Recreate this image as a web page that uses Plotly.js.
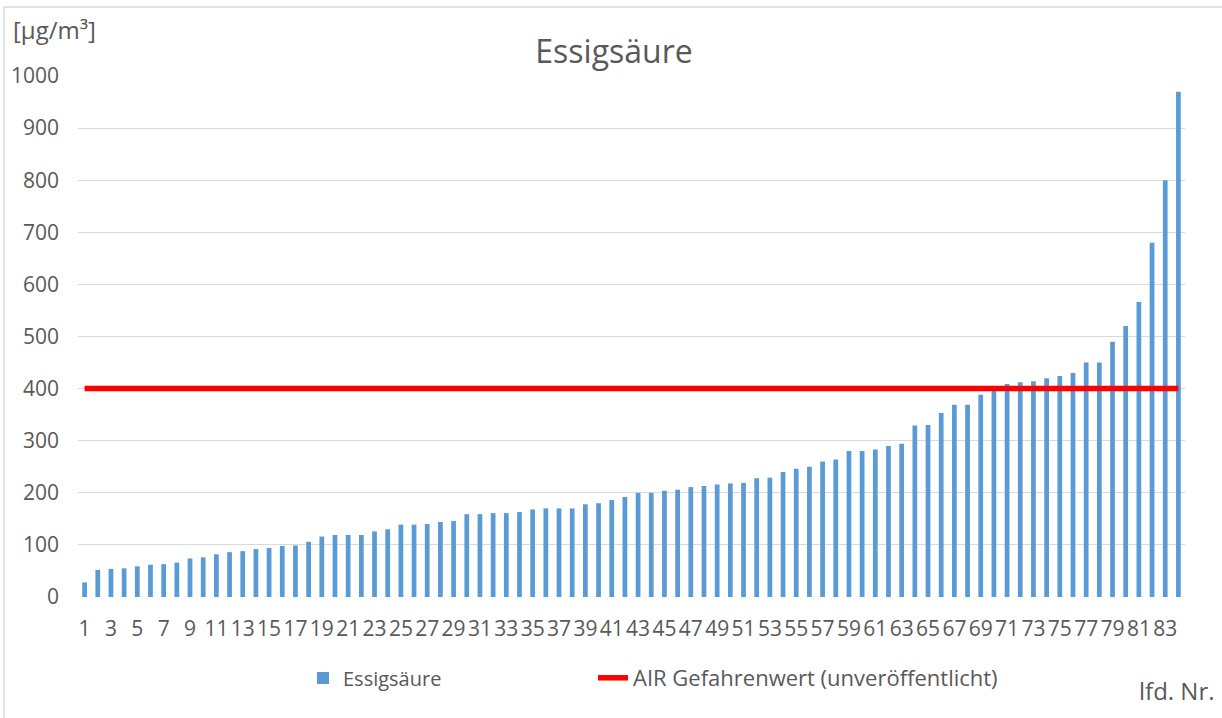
<!DOCTYPE html>
<html>
<head>
<meta charset="utf-8">
<script src="https://cdn.plot.ly/plotly-3.0.1.min.js"></script>
<style>
  html, body { margin: 0; padding: 0; background: #ffffff; }
  #chart { width: 1222px; height: 718px; }
</style>
</head>
<body>
<div id="chart"></div>
<script>
// Laufende Nummer (lfd. Nr.) 1..84
const categories = [
  1, 2, 3, 4, 5, 6, 7, 8, 9, 10,
  11, 12, 13, 14, 15, 16, 17, 18, 19, 20,
  21, 22, 23, 24, 25, 26, 27, 28, 29, 30,
  31, 32, 33, 34, 35, 36, 37, 38, 39, 40,
  41, 42, 43, 44, 45, 46, 47, 48, 49, 50,
  51, 52, 53, 54, 55, 56, 57, 58, 59, 60,
  61, 62, 63, 64, 65, 66, 67, 68, 69, 70,
  71, 72, 73, 74, 75, 76, 77, 78, 79, 80,
  81, 82, 83, 84
];

// Essigsäure concentrations [µg/m³]
const essigsaeure = [
  28, 52, 54, 55, 59, 62, 63, 66, 74, 76,
  82, 86, 88, 92, 94, 98, 99, 106, 116, 119,
  119, 119, 126, 130, 139, 139, 140, 144, 146, 159,
  159, 161, 161, 163, 168, 170, 170, 170, 178, 180,
  186, 192, 200, 200, 204, 206, 211, 213, 216, 218,
  219, 228, 229, 240, 246, 250, 260, 264, 280, 280,
  283, 290, 294, 329, 330, 353, 369, 369, 388, 396,
  409, 412, 414, 420, 424, 430, 450, 450, 490, 520,
  566, 680, 800, 970
];

// AIR Gefahrenwert (unveröffentlicht)
const gefahrenwert = categories.map(() => 400);

// x tick labels: every second number
const xTickVals = categories.filter(c => c % 2 === 1);
const xTickText = xTickVals.map(String);

const yTickVals = [0, 100, 200, 300, 400, 500, 600, 700, 800, 900, 1000];

const FONT = "'Open Sans', 'Liberation Sans', sans-serif";
const TXT = '#595959';

const L = 78, R = 37, T = 76, B = 121;
const W = 1222, H = 718;
const pw = W - L - R, ph = H - T - B;
const px = x => (x - L) / pw;
const py = y => (H - B - y) / ph;

const traces = [
  {
    type: 'bar',
    name: 'Essigsäure',
    x: categories,
    y: essigsaeure,
    marker: { color: '#5B9BD5' },
    legend: 'legend',
    hoverinfo: 'x+y'
  },
  {
    type: 'scatter',
    mode: 'lines',
    name: 'AIR Gefahrenwert (unveröffentlicht)',
    x: categories,
    y: gefahrenwert,
    line: { color: '#FF0000', width: 5.5 },
    legend: 'legend2',
    hoverinfo: 'y'
  }
];

const legendBase = {
  orientation: 'h',
  yref: 'container', y: 1 - 678 / H, yanchor: 'middle',
  xref: 'container', xanchor: 'left',
  font: { family: FONT, size: 20, color: TXT },
  bgcolor: 'rgba(0,0,0,0)'
};

const layout = {
  width: W,
  height: H,
  margin: { l: L, r: R, t: T, b: B },
  paper_bgcolor: '#ffffff',
  plot_bgcolor: '#ffffff',
  font: { family: FONT, color: TXT, size: 20 },
  bargap: 0.64,
  title: {
    text: 'Essigsäure',
    font: { family: FONT, size: 32, color: TXT },
    xref: 'container', x: 0.5025, xanchor: 'center',
    yref: 'container', y: 1 - 52 / H, yanchor: 'middle'
  },
  xaxis: {
    type: 'linear',
    range: [0.5, 84.5],
    tickmode: 'array',
    tickvals: xTickVals,
    ticktext: xTickText,
    tickangle: 0,
    ticks: '',
    showgrid: false,
    zeroline: false,
    showline: false,
    ticklabelstandoff: 17,
    tickfont: { family: FONT, size: 21, color: TXT },
    fixedrange: true
  },
  yaxis: {
    range: [0, 1000],
    tickmode: 'array',
    tickvals: yTickVals,
    ticks: '',
    showgrid: true,
    gridcolor: '#D9D9D9',
    gridwidth: 1.3,
    zeroline: false,
    showline: false,
    ticklabelstandoff: 18,
    tickfont: { family: FONT, size: 21, color: TXT },
    fixedrange: true
  },
  showlegend: true,
  legend: Object.assign({}, legendBase, { x: 303 / W }),
  legend2: Object.assign({}, legendBase, {
    x: 593 / W,
    font: { family: FONT, size: 22, color: TXT }
  }),
  annotations: [
    {
      text: '[µg/m³]',
      xref: 'paper', yref: 'paper',
      x: px(11), y: py(30),
      xanchor: 'left', yanchor: 'middle',
      showarrow: false,
      font: { family: FONT, size: 24, color: TXT }
    },
    {
      text: 'lfd. Nr.',
      xref: 'paper', yref: 'paper',
      x: px(1217), y: py(690),
      xanchor: 'right', yanchor: 'middle',
      showarrow: false,
      font: { family: FONT, size: 24, color: TXT }
    }
  ],
  shapes: [
    {
      type: 'line', xref: 'paper', yref: 'paper', layer: 'below',
      x0: px(4), x1: px(1222), y0: py(7), y1: py(7),
      line: { color: '#D9D9D9', width: 1.5 }
    },
    {
      type: 'line', xref: 'paper', yref: 'paper', layer: 'below',
      x0: px(4), x1: px(4), y0: py(7), y1: py(718),
      line: { color: '#D9D9D9', width: 1.5 }
    }
  ]
};

Plotly.newPlot('chart', traces, layout, { displayModeBar: false });
</script>
</body>
</html>
